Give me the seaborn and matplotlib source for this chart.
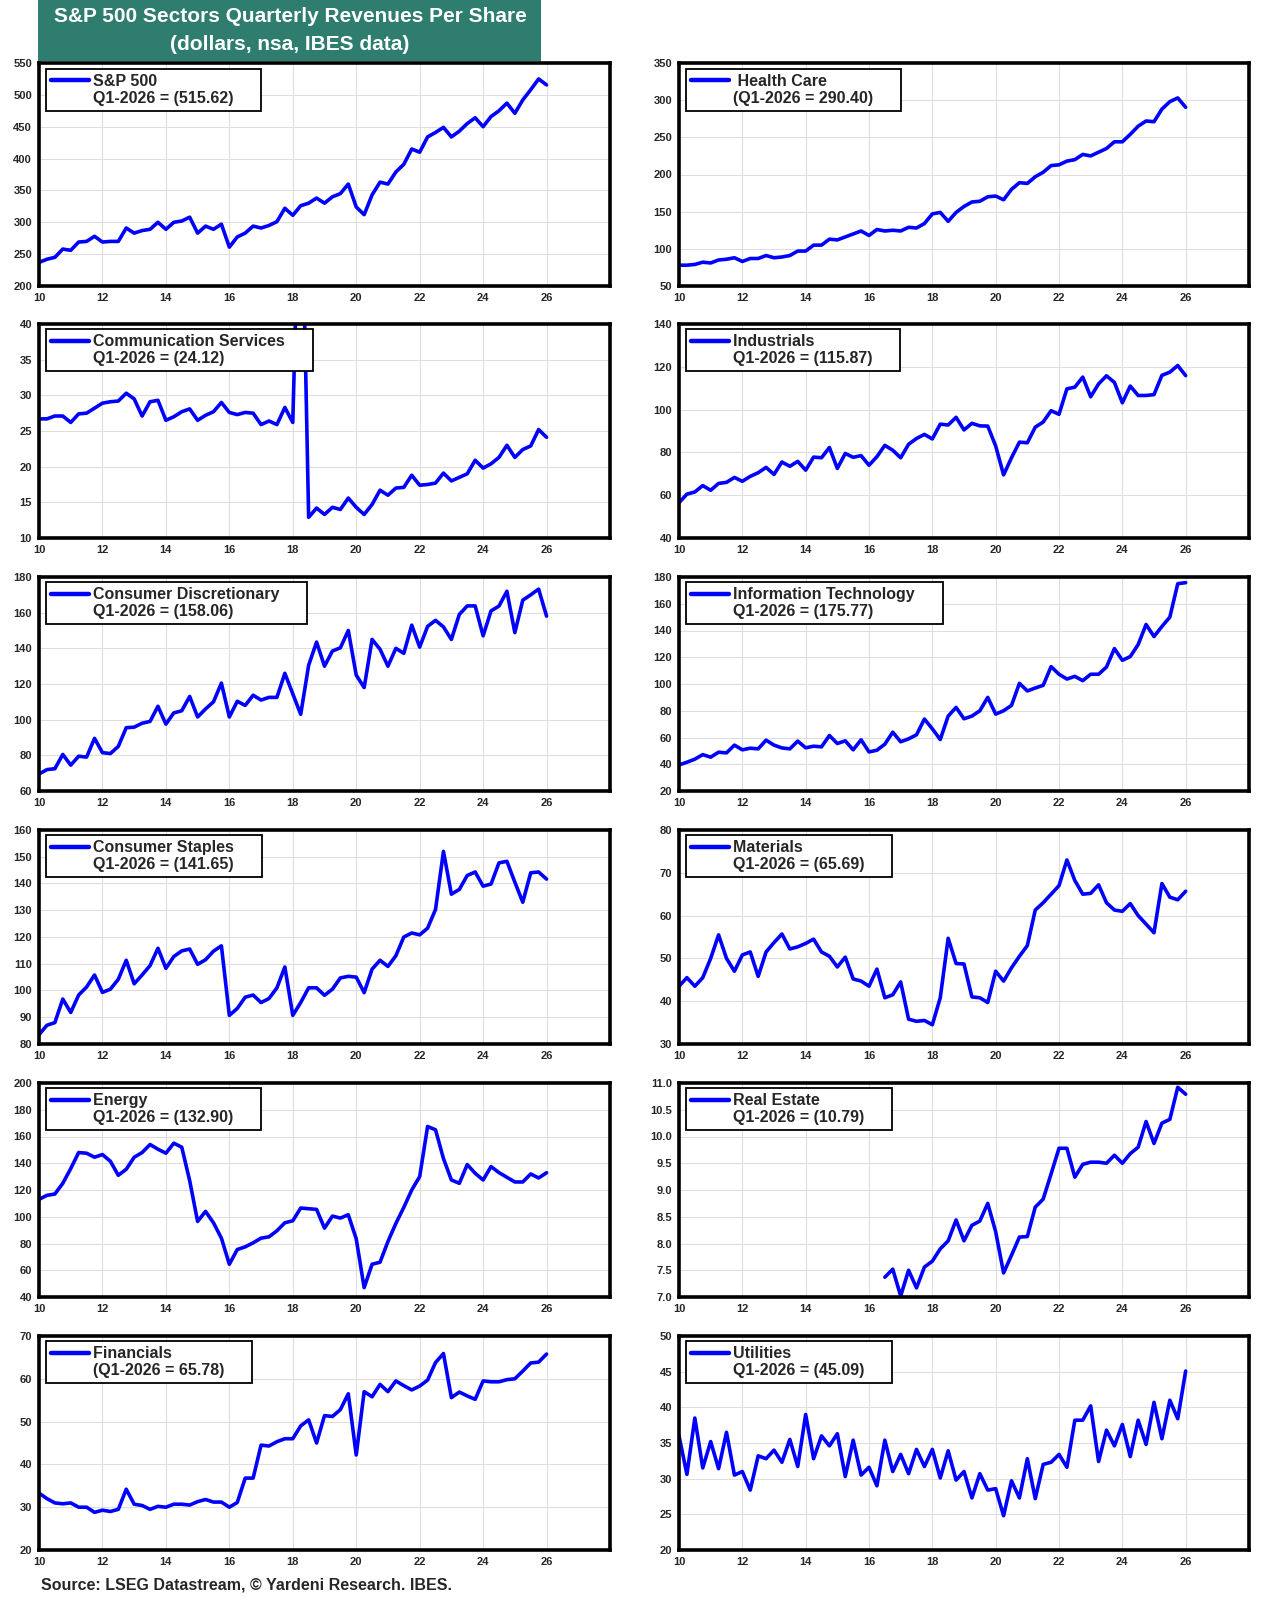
"""
S&P 500 sectors quarterly revenues per share, 12-panel grid.
"""
import numpy as np
import matplotlib
matplotlib.use('Agg')
import matplotlib.pyplot as plt
from matplotlib.lines import Line2D
from matplotlib.patches import Rectangle
import seaborn as sns

sns.set_style('white')
plt.rcParams['font.family'] = ['Liberation Sans', 'DejaVu Sans']

# quarterly observations, Q1-2010 .. Q1-2026 (x axis shows two-digit years)
quarters = 10 + np.arange(65) * 0.25

sp500 = [237, 242, 245, 258, 256, 269, 270, 278, 269, 270, 270, 291, 283, 287, 289, 300,
         289, 300, 302, 308, 283, 294, 289, 297, 261, 277, 283, 294, 291, 295, 301, 322,
         311, 326, 330, 338, 330, 340, 345, 360, 324, 312, 343, 363, 360, 379, 391, 415,
         410, 434, 441, 449, 434, 443, 455, 464, 450, 466, 475, 487, 471, 492, 508, 525,
         515.62]
health_care = [78, 78, 79, 82, 81, 85, 86, 88, 83, 87, 87, 91, 88, 89, 91, 97,
               97, 105, 105, 113, 112, 116, 120, 124, 118, 126, 124, 125, 124, 129, 128, 134,
               147, 149, 137, 149, 157, 163, 164, 170, 171, 166, 180, 189, 188, 197, 203, 212,
               213, 218, 220, 227, 225, 230, 235, 244, 244, 254, 265, 272, 271, 288, 298, 303,
               290.40]
comm_services = [26.7, 26.7, 27.1, 27.1, 26.2, 27.4, 27.5, 28.2, 28.9, 29.1, 29.2, 30.3, 29.5, 27.1, 29.1, 29.3,
                 26.5, 27.0, 27.7, 28.1, 26.5, 27.2, 27.7, 29.0, 27.6, 27.3, 27.6, 27.5, 25.9, 26.4, 25.9, 28.3,
                 26.2, 68.0, 12.9, 14.2, 13.3, 14.3, 14.0, 15.6, 14.3, 13.3, 14.7, 16.7, 16.0, 17.0, 17.1, 18.8,
                 17.4, 17.5, 17.7, 19.1, 18.0, 18.5, 19.0, 20.9, 19.8, 20.4, 21.3, 23.0, 21.3, 22.4, 22.9, 25.2,
                 24.12]
industrials = [56.5, 60.5, 61.5, 64.5, 62.3, 65.5, 66.0, 68.3, 66.5, 68.8, 70.5, 73.0, 69.7, 75.5, 73.5, 75.8,
               71.7, 77.8, 77.5, 82.3, 72.5, 79.5, 77.7, 78.5, 74.0, 78.0, 83.3, 81.0, 77.5, 83.8, 86.5, 88.4,
               86.3, 93.2, 92.8, 96.4, 90.5, 93.6, 92.4, 92.3, 83.0, 69.5, 77.5, 84.8, 84.5, 91.8, 94.2, 99.5,
               97.8, 109.7, 110.5, 115.2, 106.0, 112.0, 115.8, 112.7, 103.2, 111.0, 106.6, 106.6, 107.0, 116.0, 117.5, 120.6,
               115.87]
cons_disc = [69.5, 72.0, 72.5, 80.5, 74.5, 79.5, 79.0, 89.5, 81.5, 81.0, 85.0, 95.5, 95.8, 98.0, 99.0, 107.5,
             97.5, 103.8, 105.0, 113.0, 101.5, 106.0, 110.0, 120.5, 101.5, 110.3, 108.0, 113.7, 111.0, 112.5, 112.5, 126.0,
             114.5, 103.0, 130.5, 143.5, 130.0, 138.5, 140.3, 150.0, 125.0, 118.0, 145.0, 139.5, 130.0, 140.0, 137.2, 153.0,
             140.7, 152.3, 155.7, 152.0, 145.0, 159.0, 163.8, 163.8, 147.0, 161.0, 163.7, 172.0, 148.8, 167.0, 170.0, 173.2,
             158.06]
info_tech = [39.5, 41.5, 43.8, 47.2, 45.3, 49.0, 48.5, 54.3, 50.8, 52.0, 51.5, 58.0, 54.3, 52.2, 51.5, 57.3,
             52.3, 53.5, 53.0, 61.5, 55.5, 57.5, 50.8, 58.3, 49.2, 50.5, 55.0, 64.0, 56.8, 59.0, 62.0, 73.8,
             66.5, 58.5, 76.0, 82.5, 74.0, 76.0, 80.0, 90.0, 77.5, 80.0, 84.0, 100.5, 94.8, 97.0, 99.0, 113.0,
             107.3, 103.7, 105.7, 102.5, 107.3, 107.3, 112.7, 126.5, 117.7, 120.5, 129.5, 144.5, 135.5, 143.0, 150.0, 175.0,
             175.77]
cons_staples = [83.5, 87.0, 88.0, 96.8, 91.8, 98.3, 101.3, 105.8, 99.3, 100.5, 104.2, 111.3, 102.5, 105.8, 109.3, 115.8,
                108.3, 112.7, 114.8, 115.5, 109.8, 111.5, 114.7, 116.7, 90.7, 93.3, 97.5, 98.3, 95.5, 97.0, 101.0, 108.8,
                90.7, 95.5, 101.0, 101.0, 98.2, 100.5, 104.7, 105.3, 105.0, 99.2, 108.0, 111.3, 109.0, 113.0, 120.0, 121.5,
                120.8, 123.3, 130.3, 152.0, 136.0, 137.8, 143.0, 144.3, 139.0, 139.8, 147.7, 148.3, 140.5, 133.0, 144.0, 144.3,
                141.65]
materials = [43.5, 45.5, 43.5, 45.5, 50.0, 55.5, 50.0, 47.0, 50.8, 51.5, 45.8, 51.5, 53.7, 55.7, 52.2, 52.7,
             53.5, 54.5, 51.5, 50.5, 48.0, 50.3, 45.2, 44.7, 43.5, 47.5, 40.8, 41.5, 44.5, 35.8, 35.3, 35.5,
             34.5, 40.8, 54.7, 48.8, 48.7, 41.0, 40.8, 39.7, 47.0, 44.7, 47.8, 50.5, 53.0, 61.3, 63.0, 65.0,
             67.0, 73.0, 68.2, 65.0, 65.2, 67.2, 63.0, 61.3, 61.0, 62.8, 60.0, 58.0, 56.0, 67.5, 64.3, 63.7,
             65.69]
energy = [113, 116, 117, 125, 136, 148, 147.5, 144.5, 146.5, 141.5, 131, 135.5, 144.5, 148, 154, 150.5,
          147.5, 155, 152, 127, 96.5, 104, 95.5, 84, 64.5, 75.5, 77.5, 80.5, 84, 85, 89.5, 95.5,
          97, 106.5, 106, 105.5, 91.5, 100.5, 99, 101.5, 83.5, 47, 64.5, 66, 81.5, 95, 107, 120,
          130, 167.5, 165, 143.5, 127.5, 125, 139, 132.5, 127.5, 137.5, 133, 129.5, 126, 126, 132, 129,
          132.90]
# real estate series starts in Q3-2016
real_estate = [np.nan] * 26 + [
    7.37, 7.52, 7.02, 7.50, 7.17, 7.56, 7.67, 7.90, 8.05, 8.44, 8.05, 8.34, 8.42, 8.75,
    8.22, 7.45, 7.78, 8.12, 8.13, 8.68, 8.83, 9.30, 9.78, 9.78, 9.24, 9.48, 9.52, 9.52,
    9.50, 9.65, 9.50, 9.68, 9.80, 10.28, 9.87, 10.25, 10.32, 10.92, 10.79]
financials = [33.3, 32.0, 31.0, 30.8, 31.0, 30.0, 30.0, 28.8, 29.3, 29.0, 29.5, 34.2, 30.7, 30.4, 29.5, 30.2,
              30.0, 30.7, 30.7, 30.5, 31.3, 31.8, 31.2, 31.2, 30.0, 31.1, 36.8, 36.8, 44.5, 44.3, 45.3, 46.0,
              46.0, 49.0, 50.4, 45.0, 51.4, 51.2, 52.8, 56.5, 42.2, 57.0, 55.8, 58.7, 57.0, 59.5, 58.4, 57.4,
              58.3, 59.7, 63.8, 65.9, 55.6, 56.9, 56.0, 55.2, 59.5, 59.3, 59.3, 59.8, 60.0, 61.8, 63.7, 63.9,
              65.78]
utilities = [36.0, 30.6, 38.5, 31.5, 35.2, 31.4, 36.5, 30.5, 31.0, 28.4, 33.2, 32.8, 34.0, 32.3, 35.5, 31.7,
             39.0, 32.8, 36.0, 34.6, 36.3, 30.3, 35.4, 30.5, 31.6, 29.0, 35.4, 31.0, 33.4, 30.7, 34.1, 31.7,
             34.1, 30.1, 33.9, 29.8, 31.0, 27.3, 30.7, 28.4, 28.6, 24.8, 29.7, 27.3, 32.8, 27.2, 32.0, 32.3,
             33.4, 31.6, 38.2, 38.2, 40.2, 32.4, 36.8, 34.6, 37.6, 33.1, 38.2, 34.8, 40.7, 35.6, 41.0, 38.4,
             45.09]

# (series, legend line 1, legend line 2, y-limits, y-tick step, tick format)
panels = [
    (sp500, 'S&P 500', 'Q1-2026 = (515.62)', (200, 550), 50, '{:.0f}'),
    (health_care, ' Health Care', '(Q1-2026 = 290.40)', (50, 350), 50, '{:.0f}'),
    (comm_services, 'Communication Services', 'Q1-2026 = (24.12)', (10, 40), 5, '{:.0f}'),
    (industrials, 'Industrials', 'Q1-2026 = (115.87)', (40, 140), 20, '{:.0f}'),
    (cons_disc, 'Consumer Discretionary', 'Q1-2026 = (158.06)', (60, 180), 20, '{:.0f}'),
    (info_tech, 'Information Technology', 'Q1-2026 = (175.77)', (20, 180), 20, '{:.0f}'),
    (cons_staples, 'Consumer Staples', 'Q1-2026 = (141.65)', (80, 160), 10, '{:.0f}'),
    (materials, 'Materials', 'Q1-2026 = (65.69)', (30, 80), 10, '{:.0f}'),
    (energy, 'Energy', 'Q1-2026 = (132.90)', (40, 200), 20, '{:.0f}'),
    (real_estate, 'Real Estate', 'Q1-2026 = (10.79)', (7.0, 11.0), 0.5, '{:.1f}'),
    (financials, 'Financials', '(Q1-2026 = 65.78)', (20, 70), 10, '{:.0f}'),
    (utilities, 'Utilities', 'Q1-2026 = (45.09)', (20, 50), 5, '{:.0f}'),
]

W, H = 1280, 1600
fig = plt.figure(figsize=(W / 100, H / 100), dpi=100)

col_left = [39, 679]
col_width = [571, 570]
row_top = [63, 324, 577, 830, 1083, 1336]
row_bottom = [286, 538, 791, 1044, 1297, 1550]

line_color = '#0000FF'
pad = ' ' * 5  # legend boxes in the original leave room on the right

for i, (values, name, note, ylim, step, fmt) in enumerate(panels):
    r, c = divmod(i, 2)
    ax = fig.add_axes([col_left[c] / W, 1 - row_bottom[r] / H,
                       col_width[c] / W, (row_bottom[r] - row_top[r]) / H])
    sns.lineplot(x=quarters, y=np.asarray(values, dtype=float), ax=ax,
                 color=line_color, linewidth=2.6)
    ax.set_xlim(10, 28)
    ax.set_ylim(*ylim)
    ax.set_xticks(np.arange(10, 27, 2))
    ax.set_xticklabels([str(t) for t in range(10, 27, 2)])
    yt = np.arange(ylim[0], ylim[1] + step / 2, step)
    ax.set_yticks(yt)
    ax.set_yticklabels([fmt.format(v) for v in yt])
    ax.grid(True, color='#DEDEDE', linewidth=0.8)
    ax.set_axisbelow(True)
    for s in ax.spines.values():
        s.set_linewidth(2.6)
        s.set_color('black')
    ax.tick_params(axis='both', which='major', length=3, width=0.8, labelsize=8, pad=2)
    for lab in ax.get_xticklabels() + ax.get_yticklabels():
        lab.set_fontweight('bold')
    ax.set_xlabel('')
    ax.set_ylabel('')

    handles = [Line2D([], [], color=line_color, linewidth=3.2),
               Line2D([], [], color='none')]
    leg = ax.legend(handles, [name + pad, note + pad], loc='upper left',
                    bbox_to_anchor=(0.012, 0.975), borderaxespad=0,
                    frameon=True, fancybox=False, framealpha=1,
                    edgecolor='black', handlelength=2.4, handletextpad=0.25,
                    labelspacing=0.12, borderpad=0.32,
                    prop={'weight': 'bold', 'size': 11.5})
    leg.get_frame().set_linewidth(1.3)

# title banner
fig.add_artist(Rectangle((38 / W, 1 - 61 / H), (541 - 38) / W, 61 / H,
                         transform=fig.transFigure, facecolor='#2E7D6F',
                         edgecolor='none', zorder=5))
fig.text(290 / W, 1 - 16 / H, 'S&P 500 Sectors Quarterly Revenues Per Share',
         ha='center', va='center', color='white', fontsize=15, fontweight='bold', zorder=6)
fig.text(290 / W, 1 - 44 / H, '(dollars, nsa, IBES data)',
         ha='center', va='center', color='white', fontsize=15, fontweight='bold', zorder=6)

fig.text(41 / W, 1 - 1585 / H, 'Source: LSEG Datastream, © Yardeni Research. IBES.',
         ha='left', va='center', fontsize=11.5, fontweight='bold')

fig.savefig('out.png', dpi=100)
